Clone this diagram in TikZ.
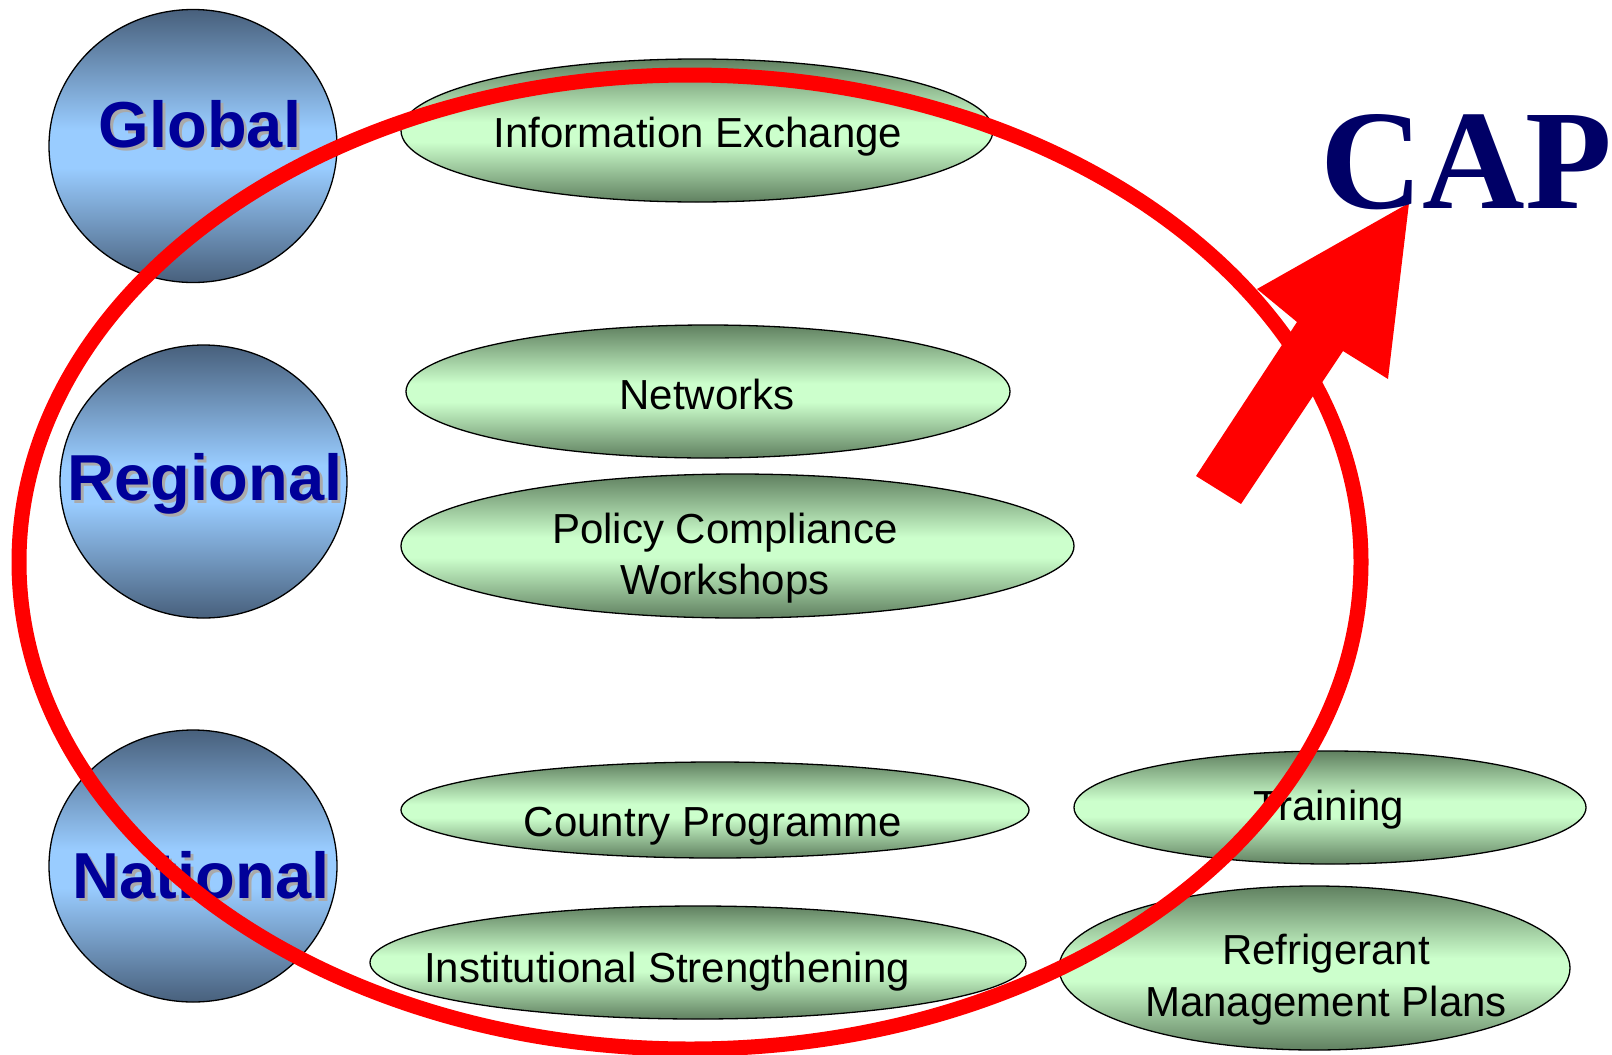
\documentclass[tikz,border=0pt]{standalone}
\usepackage{fontspec}
\setmainfont{Liberation Sans}
\newfontfamily\capfont{Liberation Serif}
\usetikzlibrary{shapes.geometric}
\definecolor{cdark}{RGB}{72,96,124}
\definecolor{clight}{RGB}{153,204,255}
\definecolor{gdark}{RGB}{96,128,96}
\definecolor{glight}{RGB}{204,255,204}
\definecolor{lblblue}{RGB}{0,0,153}
\definecolor{capblue}{RGB}{0,0,102}
\definecolor{shadowgray}{RGB}{170,170,170}
\pgfdeclareverticalshading{circshade}{100bp}{color(0bp)=(cdark); color(25bp)=(cdark); color(46bp)=(clight); color(53bp)=(clight); color(75bp)=(cdark); color(100bp)=(cdark)}
\pgfdeclareverticalshading{ellshade}{100bp}{color(0bp)=(gdark); color(25bp)=(gdark); color(46bp)=(glight); color(53bp)=(glight); color(75bp)=(gdark); color(100bp)=(gdark)}
\begin{document}
\begin{tikzpicture}[x=1pt,y=-1pt,
  levelnode/.style={ellipse, draw=black, line width=1.3pt, shade, shading=circshade, inner sep=0pt},
  itemnode/.style={ellipse, draw=black, line width=1.3pt, shade, shading=ellshade, inner sep=0pt},
  itemtext/.style={anchor=base, inner sep=0pt, font=\fontsize{42}{50}\selectfont},
  leveltext/.style={anchor=base, inner sep=0pt, text=lblblue, font=\bfseries\fontsize{65}{78}\selectfont},
  levelshadow/.style={leveltext, text=shadowgray},
  ringstyle/.style={ellipse, draw=red, line width=15pt, inner sep=0pt},
]
\path[use as bounding box, fill=white] (0,0) rectangle (1612,1055);

% level circles
\node[levelnode, minimum width=288pt, minimum height=273pt] (global) at (193,146) {};
\node[levelshadow] (global-sh) at (203,150) {Global};
\node[leveltext] (global-t) at (200,147) {Global};

\node[levelnode, minimum width=287pt, minimum height=273pt] (regional) at (203.5,481.5) {};
\node[levelshadow] (regional-sh) at (208,503) {Regional};
\node[leveltext] (regional-t) at (205,500) {Regional};

\node[levelnode, minimum width=288pt, minimum height=272pt] (national) at (193,866) {};
\node[levelshadow] (national-sh) at (204,901) {National};
\node[leveltext] (national-t) at (201,898) {National};

% activity ellipses
\node[itemnode, minimum width=592pt, minimum height=143pt] (info) at (697,130.5) {};
\node[itemtext] (info-t) at (698,147) {Information Exchange};

\node[itemnode, minimum width=604pt, minimum height=133pt] (networks) at (708,391.5) {};
\node[itemtext] (networks-t) at (707,409) {Networks};

\node[itemnode, minimum width=673pt, minimum height=144pt] (policy) at (737.5,546) {};
\node[itemtext] (policy-t1) at (725,543) {Policy Compliance};
\node[itemtext] (policy-t2) at (725,594) {Workshops};

\node[itemnode, minimum width=628pt, minimum height=96pt] (country) at (715,810) {};
\node[itemtext] (country-t) at (713,836) {Country Programme};

\node[itemnode, minimum width=656pt, minimum height=113pt] (inst) at (698,962.5) {};
\node[itemtext] (inst-t) at (667,982) {Institutional Strengthening};

\node[itemnode, minimum width=512pt, minimum height=113pt] (training) at (1330,807.5) {};
\node[itemtext] (training-t) at (1329,820) {Training};

\node[itemnode, minimum width=511pt, minimum height=164pt] (rmp) at (1314.5,968) {};
\node[itemtext] (rmp-t1) at (1326,964) {Refrigerant};
\node[itemtext] (rmp-t2) at (1326,1016) {Management Plans};

% red ring
\node[ringstyle, minimum width=1342pt, minimum height=974pt] (ring) at (690,562) {};

% big arrow
\fill[red] (1196,476) -- (1297,322) -- (1257,289) -- (1409,203) -- (1388,379) -- (1343,351) -- (1241,504) -- cycle;

% CAP
\node[anchor=base west, inner sep=0pt, text=capblue, font=\capfont\bfseries\fontsize{142}{156}\selectfont] (cap) at (1320,208) {CAP};
\end{tikzpicture}
\end{document}
